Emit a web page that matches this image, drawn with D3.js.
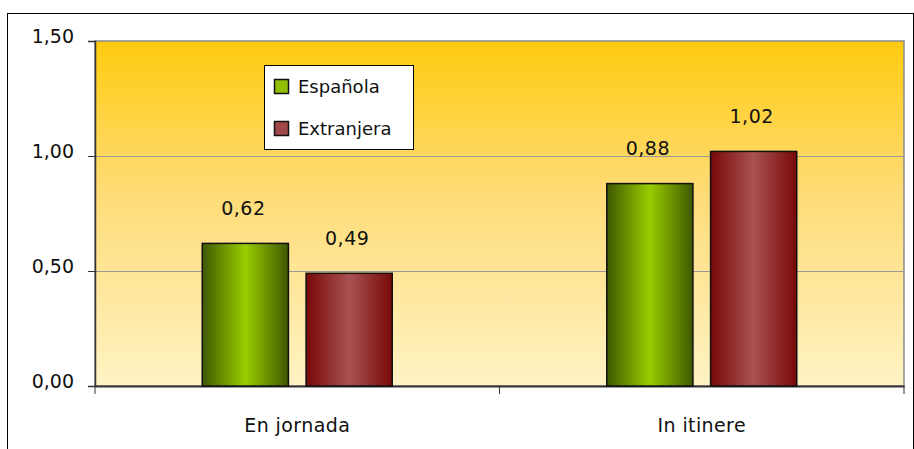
<!DOCTYPE html>
<html>
<head>
<meta charset="utf-8">
<script src="https://cdn.jsdelivr.net/npm/d3@7"></script>
<style>
  html, body { margin: 0; padding: 0; background: #fff; }
  svg text { font-family: "DejaVu Sans", Verdana, sans-serif; fill: #111; }
</style>
</head>
<body>
<svg id="chart" width="914" height="449"></svg>
<script>
// Datos del gráfico
const categories = ["En jornada", "In itinere"];
const seriesNames = ["Española", "Extranjera"];
const espanola = [0.62, 0.88];
const extranjera = [0.49, 1.02];
const yTicks = [0, 0.5, 1.0, 1.5];

const svg = d3.select("#chart");
const margin = { top: 41, right: 10, bottom: 63, left: 95 };
const W = 914, H = 449;
const width = W - margin.left - margin.right;   // 809
const height = H - margin.top - margin.bottom;  // 345

const fmt = v => d3.format(".2f")(v).replace(".", ",");

// degradados
const defs = svg.append("defs");
const bg = defs.append("linearGradient").attr("id", "bgGrad").attr("x1", 0).attr("y1", 0).attr("x2", 0).attr("y2", 1);
bg.append("stop").attr("offset", "0%").attr("stop-color", "#ffcb10");
bg.append("stop").attr("offset", "45%").attr("stop-color", "#fedc78");
bg.append("stop").attr("offset", "100%").attr("stop-color", "#fff3c4");

function barGrad(id, edge, mid) {
    const g = defs.append("linearGradient").attr("id", id).attr("x1", 0).attr("y1", 0).attr("x2", 1).attr("y2", 0);
    g.append("stop").attr("offset", "0%").attr("stop-color", edge);
    g.append("stop").attr("offset", "50%").attr("stop-color", mid);
    g.append("stop").attr("offset", "100%").attr("stop-color", edge);
}
barGrad("gGreen", "#3f5800", "#9acd00");
barGrad("gRed", "#780808", "#a95252");
const fills = ["url(#gGreen)", "url(#gRed)"];
const swatch = ["#8fbf00", "#a04848"];

// marco exterior
svg.append("rect").attr("x", 7.5).attr("y", 13.5).attr("width", 906).attr("height", 460)
    .attr("fill", "none").attr("stroke", "#000").attr("stroke-width", 1);

const g = svg.append("g").attr("transform", `translate(${margin.left},${margin.top})`);

const x0 = d3.scaleBand().domain(categories).range([0, width]);
const x1 = d3.scaleBand().domain(seriesNames).range([0, 190]).paddingInner(0.17);
const y = d3.scaleLinear().domain([0, 1.5]).range([height, 0]);

// fondo
g.append("rect").attr("width", width).attr("height", height).attr("fill", "url(#bgGrad)")
    .attr("stroke", "#8a8a8a").attr("stroke-width", 1.5);

// rejilla
g.append("g").selectAll("line").data(yTicks.filter(t => t > 0 && t < 1.5)).join("line")
    .attr("x1", 0).attr("x2", width).attr("y1", d => y(d) + 0.5).attr("y2", d => y(d) + 0.5)
    .attr("stroke", "#9a9a9a").attr("stroke-width", 1);

// eje Y
const yAxis = g.append("g").call(d3.axisLeft(y).tickValues(yTicks).tickSize(7).tickPadding(14).tickFormat(fmt));
yAxis.select(".domain").attr("stroke", "#333").attr("stroke-width", 1.5);
yAxis.selectAll(".tick line").attr("stroke", "#333");
yAxis.selectAll(".tick text").attr("font-size", 19).attr("dy", "0.1em").style("font-family", "DejaVu Sans");

// eje X
const xAxis = g.append("g").attr("transform", `translate(0,${height})`)
    .call(d3.axisBottom(x0).tickSize(0).tickPadding(33));
xAxis.select(".domain").attr("stroke", "#333").attr("stroke-width", 2);
xAxis.selectAll(".tick text").attr("font-size", 19).attr("letter-spacing", "0.4px").style("font-family", "DejaVu Sans");
g.append("g").selectAll("line").data([0, width / 2, width]).join("line")
    .attr("x1", d => d).attr("x2", d => d).attr("y1", height).attr("y2", height + 8)
    .attr("stroke", "#333").attr("stroke-width", 1);

// barras
const rows = categories.map((c, i) => ({ cat: c, vals: [espanola[i], extranjera[i]] }));
const grp = g.selectAll(".grp").data(rows).join("g").attr("class", "grp")
    .attr("transform", d => `translate(${x0(d.cat) + x0.bandwidth() / 2 - 95},0)`);

grp.selectAll("rect").data(d => d.vals.map((v, k) => ({ v, k }))).join("rect")
    .attr("x", d => x1(seriesNames[d.k]))
    .attr("y", d => y(d.v))
    .attr("width", x1.bandwidth())
    .attr("height", d => height - y(d.v))
    .attr("fill", d => fills[d.k])
    .attr("stroke", "#111").attr("stroke-width", 1.5);

grp.selectAll("text").data(d => d.vals.map((v, k) => ({ v, k }))).join("text")
    .attr("x", d => x1(seriesNames[d.k]) + x1.bandwidth() / 2 - 2)
    .attr("y", d => y(d.v) - 35)
    .attr("dy", "0.35em")
    .attr("text-anchor", "middle")
    .attr("font-size", 19)
    .attr("letter-spacing", "0.5px")
    .text(d => fmt(d.v));

// leyenda
const lg = svg.append("g").attr("transform", "translate(264,65)");
lg.append("rect").attr("x", 0.5).attr("y", 0.5).attr("width", 149).attr("height", 84)
    .attr("fill", "#fff").attr("stroke", "#000").attr("stroke-width", 1);
seriesNames.forEach((s, i) => {
    const yy = 14 + i * 42;
    lg.append("rect").attr("x", 10.5).attr("y", yy + 0.5).attr("width", 14).attr("height", 14)
        .attr("fill", swatch[i]).attr("stroke", "#111").attr("stroke-width", 1.5);
    lg.append("text").attr("x", 34).attr("y", yy + 8).attr("dy", "0.35em")
        .attr("font-size", 18).text(s);
});
</script>
</body>
</html>
